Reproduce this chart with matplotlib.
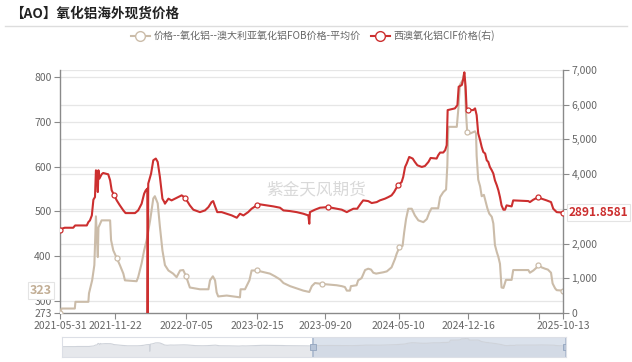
import numpy as np
import pandas as pd
import matplotlib.pyplot as plt
import matplotlib.transforms as mtransforms
from matplotlib.lines import Line2D

plt.rcParams['font.family'] = ['Noto Sans CJK SC', 'DejaVu Sans']

# Australian alumina FOB, average price (left axis)
fob_dates = [
    '2021-05-31', '2021-06-05', '2021-07-17', '2021-07-19', '2021-08-29', '2021-08-31', '2021-09-10', '2021-09-17',
    '2021-09-22', '2021-09-28', '2021-09-30', '2021-10-10', '2021-11-06', '2021-11-09', '2021-11-16', '2021-11-27',
    '2021-12-07', '2021-12-18', '2021-12-23', '2022-01-29', '2022-02-03', '2022-02-14', '2022-02-22', '2022-03-02',
    '2022-03-13', '2022-03-23', '2022-03-28', '2022-04-06', '2022-04-13', '2022-04-21', '2022-04-29', '2022-05-10',
    '2022-05-25', '2022-06-05', '2022-06-16', '2022-06-26', '2022-07-05', '2022-07-17', '2022-08-18', '2022-09-14',
    '2022-09-19', '2022-09-28', '2022-10-05', '2022-10-10', '2022-10-15', '2022-11-11', '2022-12-23', '2022-12-25',
    '2023-01-08', '2023-01-22', '2023-01-29', '2023-02-14', '2023-03-28', '2023-04-13', '2023-04-29', '2023-05-10',
    '2023-05-31', '2023-06-21', '2023-07-12', '2023-07-31', '2023-08-08', '2023-08-18', '2023-09-08', '2023-10-26',
    '2023-11-11', '2023-11-21', '2023-11-27', '2023-12-07', '2023-12-10', '2023-12-28', '2024-01-02', '2024-01-13',
    '2024-01-24', '2024-02-03', '2024-02-12', '2024-02-19', '2024-02-28', '2024-03-22', '2024-04-02', '2024-04-17',
    '2024-04-28', '2024-05-03', '2024-05-12', '2024-05-22', '2024-05-27', '2024-06-02', '2024-06-09', '2024-06-20',
    '2024-06-30', '2024-07-11', '2024-07-27', '2024-08-07', '2024-08-15', '2024-08-22', '2024-09-12', '2024-09-18',
    '2024-09-28', '2024-10-07', '2024-10-11', '2024-10-14', '2024-11-10', '2024-11-15', '2024-11-20', '2024-11-29',
    '2024-12-03', '2024-12-06', '2024-12-09', '2024-12-13', '2024-12-22', '2025-01-07', '2025-01-10', '2025-01-12',
    '2025-01-17', '2025-01-23', '2025-01-28', '2025-02-04', '2025-02-10', '2025-02-15', '2025-02-21', '2025-03-01',
    '2025-03-06', '2025-03-11', '2025-03-17', '2025-03-22', '2025-03-27', '2025-04-01', '2025-04-07', '2025-04-15',
    '2025-05-03', '2025-05-08', '2025-06-25', '2025-06-30', '2025-07-11', '2025-07-22', '2025-07-27', '2025-08-06',
    '2025-08-17', '2025-08-26', '2025-09-05', '2025-09-10', '2025-09-18', '2025-09-23', '2025-10-13']
fob_vals = [
    273, 283, 283, 298, 298, 317, 346, 380, 489, 398, 464, 480, 480, 436, 413, 396,
    380, 361, 346, 344, 353, 384, 413, 436, 480, 529, 534, 518, 466, 413, 380, 368,
    361, 353, 368, 369, 355, 330, 326, 326, 346, 355, 346, 319, 310, 312, 308, 326,
    326, 346, 368, 368, 361, 355, 348, 340, 333, 328, 323, 320, 333, 340, 338, 335,
    333, 331, 323, 323, 333, 335, 346, 351, 369, 372, 370, 363, 361, 364, 366, 375,
    394, 405, 420, 423, 453, 483, 506, 506, 491, 480, 476, 483, 498, 507, 507, 532,
    543, 549, 603, 689, 689, 730, 783, 794, 809, 783, 723, 678, 674, 679, 674, 624,
    571, 556, 534, 537, 521, 507, 495, 488, 473, 425, 409, 398, 383, 330, 329, 347,
    347, 369, 369, 363, 368, 375, 381, 375, 372, 370, 363, 339, 328, 324, 323]

# West Australian alumina CIF (right axis)
cif_dates = [
    '2021-05-31', '2021-06-05', '2021-06-15', '2021-07-12', '2021-07-18', '2021-08-24', '2021-08-29', '2021-09-03',
    '2021-09-09', '2021-09-14', '2021-09-19', '2021-09-22', '2021-09-25', '2021-09-28', '2021-09-30', '2021-10-03',
    '2021-10-10', '2021-10-15', '2021-10-31', '2021-11-06', '2021-11-11', '2021-11-19', '2021-11-27', '2021-12-07',
    '2021-12-18', '2021-12-25', '2022-01-24', '2022-02-03', '2022-02-14', '2022-02-22', '2022-02-27', '2022-03-04',
    '2022-03-05', '2022-03-07', '2022-03-16', '2022-03-23', '2022-03-31', '2022-04-06', '2022-04-13', '2022-04-21',
    '2022-04-27', '2022-04-29', '2022-05-10', '2022-05-20', '2022-05-31', '2022-06-10', '2022-06-21', '2022-07-02',
    '2022-07-17', '2022-07-28', '2022-08-18', '2022-09-03', '2022-09-14', '2022-09-24', '2022-09-29', '2022-10-05',
    '2022-10-12', '2022-10-26', '2022-11-11', '2022-11-27', '2022-12-13', '2022-12-23', '2023-01-03', '2023-01-18',
    '2023-01-29', '2023-02-14', '2023-02-25', '2023-03-18', '2023-04-08', '2023-04-29', '2023-05-10', '2023-05-31',
    '2023-06-21', '2023-07-12', '2023-07-28', '2023-07-31', '2023-08-02', '2023-08-18', '2023-09-03', '2023-09-29',
    '2023-10-26', '2023-11-11', '2023-11-27', '2023-12-07', '2023-12-18', '2023-12-30', '2024-01-10', '2024-01-18',
    '2024-02-03', '2024-02-14', '2024-03-01', '2024-03-11', '2024-03-27', '2024-04-07', '2024-04-17', '2024-04-25',
    '2024-05-01', '2024-05-08', '2024-05-19', '2024-05-24', '2024-05-30', '2024-06-04', '2024-06-12', '2024-06-23',
    '2024-06-30', '2024-07-08', '2024-07-22', '2024-08-01', '2024-08-12', '2024-08-19', '2024-09-07', '2024-09-12',
    '2024-09-18', '2024-09-28', '2024-10-04', '2024-10-09', '2024-10-12', '2024-11-04', '2024-11-12', '2024-11-16',
    '2024-11-26', '2024-12-01', '2024-12-04', '2024-12-08', '2024-12-11', '2024-12-16', '2025-01-01', '2025-01-07',
    '2025-01-12', '2025-01-17', '2025-01-23', '2025-01-28', '2025-02-02', '2025-02-08', '2025-02-13', '2025-02-18',
    '2025-02-23', '2025-03-01', '2025-03-06', '2025-03-11', '2025-03-17', '2025-03-22', '2025-03-27', '2025-04-01',
    '2025-04-07', '2025-04-12', '2025-04-17', '2025-05-03', '2025-05-08', '2025-06-25', '2025-06-30', '2025-07-11',
    '2025-07-27', '2025-08-06', '2025-08-22', '2025-09-05', '2025-09-12', '2025-09-23', '2025-10-13']
cif_vals = [
    2378, 2427, 2456, 2456, 2522, 2522, 2618, 2667, 2811, 3265, 3340, 4111, 4050, 3484, 4111, 3871,
    3995, 4033, 3995, 3822, 3533, 3389, 3244, 3100, 2955, 2878, 2878, 2955, 3149, 3438, 3533, 3582,
    0, 3727, 4016, 4400, 4449, 4351, 3918, 3293, 3195, 3149, 3293, 3244, 3293, 3340, 3389, 3322,
    3100, 2976, 2906, 2955, 3051, 3195, 3224, 3071, 2906, 2906, 2860, 2811, 2744, 2860, 2811, 2906,
    3004, 3100, 3129, 3100, 3071, 3033, 2955, 2936, 2906, 2860, 2811, 2571, 2906, 2976, 3033, 3051,
    3004, 2976, 2906, 2955, 3004, 3004, 3149, 3244, 3224, 3167, 3195, 3244, 3293, 3340, 3389, 3484,
    3582, 3678, 3773, 3918, 4207, 4305, 4495, 4449, 4351, 4255, 4207, 4235, 4351, 4466, 4449, 4544,
    4622, 4622, 4689, 4833, 5845, 5894, 5989, 6518, 6567, 6760, 6933, 6518, 5894, 5845, 5845, 5894,
    5700, 5171, 4978, 4784, 4640, 4593, 4400, 4351, 4207, 4111, 4016, 3822, 3678, 3533, 3340, 3100,
    2976, 2976, 3100, 3071, 3244, 3224, 3195, 3265, 3340, 3293, 3244, 3195, 3004, 2906, 2891.8581]

tick_dates = ['2021-05-31', '2021-11-22', '2022-07-05', '2023-02-15', '2023-09-20',
              '2024-05-10', '2024-12-16', '2025-07-28', '2025-10-13']
tick_labels = ['2021-05-31', '2021-11-22', '2022-07-05', '2023-02-15', '2023-09-20',
               '2024-05-10', '2024-12-16', '', '2025-10-13']
left_ticks = [273, 300, 400, 500, 600, 700, 800]
right_ticks = [0, 1000, 2000, 3000, 4000, 5000, 6000, 7000]
# 3,000 sits under the last-value tag of the CIF series, so its label is hidden
right_labels = ['0', '1,000', '2,000', '', '4,000', '5,000', '6,000', '7,000']

fob_label = '价格--氧化铝--澳大利亚氧化铝FOB价格-平均价'
cif_label = '西澳氧化铝CIF价格(右)'

BEIGE = '#cbbca9'
RED = '#cc2f2f'
GRID = '#e6e6e6'
AXIS = '#8a8a8a'
TXT = '#666666'

fob_x = pd.to_datetime(fob_dates)
cif_x = pd.to_datetime(cif_dates)
ticks_x = pd.to_datetime(tick_dates)


def nearest_idx(xs, targets):
    return [int(np.argmin(np.abs((xs - t).days))) for t in targets]


W, H = 632, 362
fig = plt.figure(figsize=(W / 100, H / 100), dpi=100)

# title + separator
fig.text(10 / W, 1 - 14 / H, '【AO】氧化铝海外现货价格', fontsize=9.8, fontweight='bold',
         color='#222222', va='center', ha='left')
fig.add_artist(Line2D([5 / W, 627 / W], [1 - 26 / H] * 2, color='#dddddd', lw=1))

ax = fig.add_axes([60 / W, 1 - 313 / H, 503 / W, 243 / H])
ax2 = ax.twinx()
ax.set_zorder(ax2.get_zorder() - 1)
ax2.patch.set_visible(False)

xmin, xmax = ticks_x[0], ticks_x[-1]
ax.set_xlim(xmin, xmax)
ax.set_ylim(273, 816)
ax2.set_ylim(0, 7000)

# grid lines of both y axes, drawn underneath everything
for t in left_ticks[1:]:
    ax.axhline(t, color=GRID, lw=0.9, zorder=0)
tr = mtransforms.blended_transform_factory(ax.transAxes, ax2.transData)
for t in right_ticks[1:]:
    ax.plot([0, 1], [t, t], transform=tr, color=GRID, lw=0.9, zorder=0)

ax.plot(fob_x, fob_vals, color=BEIGE, lw=1.5, zorder=3,
        marker='o', ms=3.6, mfc='white', mec=BEIGE, mew=0.9,
        markevery=nearest_idx(fob_x, ticks_x))
ax2.plot(cif_x, cif_vals, color=RED, lw=1.5, zorder=3,
         marker='o', ms=3.6, mfc='white', mec=RED, mew=0.9,
         markevery=nearest_idx(cif_x, ticks_x))

# axes styling
ax.set_xticks(ticks_x)
ax.set_xticklabels(tick_labels)
ax.set_yticks(left_ticks)
ax2.set_yticks(right_ticks)
ax2.set_yticklabels(right_labels)
for a in (ax, ax2):
    a.tick_params(axis='both', labelsize=7.5, colors=TXT, length=4, width=0.8, pad=2)
    a.tick_params(axis='both', color=AXIS)
    a.spines['top'].set_visible(False)
    for s in ('left', 'right', 'bottom'):
        a.spines[s].set_color(AXIS)
        a.spines[s].set_linewidth(1)
ax.spines['right'].set_visible(False)
ax2.spines['left'].set_visible(False)
ax2.spines['bottom'].set_visible(False)

# last-value tags on both axes
ax.annotate(f'{fob_vals[-1]:g}', xy=(0, fob_vals[-1]), xycoords=('axes fraction', 'data'),
            xytext=(-6, 0), textcoords='offset points', ha='right', va='center',
            fontsize=9, fontweight='bold', color='#c2ae95', zorder=10,
            bbox=dict(boxstyle='square,pad=0.15', fc='white', ec='#e4e4e4', lw=0.8))
ax2.annotate(f'{cif_vals[-1]:.4f}', xy=(1, cif_vals[-1]), xycoords=('axes fraction', 'data'),
             xytext=(4, 0), textcoords='offset points', ha='left', va='center',
             fontsize=8.6, fontweight='bold', color=RED, zorder=10,
             bbox=dict(boxstyle='square,pad=0.15', fc='white', ec='#e4e4e4', lw=0.8))

# watermark
fig.text(316 / W, 1 - 190 / H, '紫金天风期货', fontsize=12, color='#d9d9d9',
         ha='center', va='center')

# legend
handles = [
    Line2D([], [], color=BEIGE, lw=1.5, marker='o', ms=7, mfc='white', mec=BEIGE, mew=1),
    Line2D([], [], color=RED, lw=1.5, marker='o', ms=7, mfc='white', mec=RED, mew=1),
]
leg = fig.legend(handles, [fob_label, cif_label], loc='center', ncol=2,
                 bbox_to_anchor=(313 / W, 1 - 36 / H), frameon=False, fontsize=7.2,
                 handlelength=1.9, handletextpad=0.4, columnspacing=1.0)
for t in leg.get_texts():
    t.set_color(TXT)

# data zoom slider at the bottom
sax = fig.add_axes([62 / W, 1 - 357 / H, 504 / W, 20 / H])
sax.set_xlim(xmin, xmax)
sax.set_ylim(-3000, 7500)
sax.fill_between(cif_x, cif_vals, -3000, color='#e6e8ec', lw=0)
sax.plot(cif_x, cif_vals, color='#cfd3da', lw=0.8)
sel_start = pd.Timestamp('2023-08-04')
sax.axvspan(sel_start, xmax, color='#c9d3e2', alpha=0.65, lw=0)
for xh in (sel_start, xmax):
    sax.axvline(xh, color='#a9b8cd', lw=1.2)
    sax.plot([xh], [2250], marker='s', ms=4.5, mfc='#b7c4d7', mec='#93a5bf', mew=0.6)
sax.set_xticks([])
sax.set_yticks([])
for s in sax.spines.values():
    s.set_color('#dcdfe6')
    s.set_linewidth(0.8)

fig.savefig('out.png', dpi=100)
